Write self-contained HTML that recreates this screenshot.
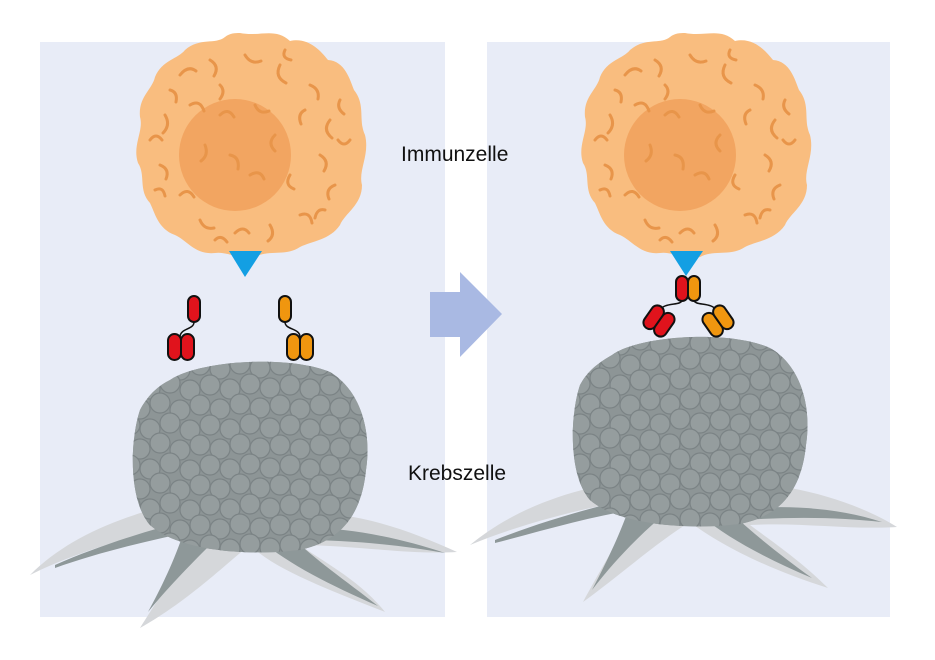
<!DOCTYPE html>
<html><head><meta charset="utf-8"><style>
html,body{margin:0;padding:0;background:#fff;}
svg{display:block}
text{font-family:"Liberation Sans",sans-serif;font-size:21px;fill:#111}
</style></head><body>
<svg width="935" height="660" viewBox="0 0 935 660" xmlns="http://www.w3.org/2000/svg">
<defs>
<clipPath id="c1"><path d="M170,380 C200,360 290,355 330,372 C360,390 372,430 366,470 C362,510 345,540 300,550 C250,556 180,552 150,525 C128,500 130,440 140,410 C148,395 158,386 170,380Z"/></clipPath>
<clipPath id="c2"><path d="M612,355 C640,335 730,330 770,348 C800,365 812,405 806,445 C802,485 785,515 740,524 C690,530 620,526 590,500 C568,475 570,415 580,385 C588,370 600,362 612,355Z"/></clipPath>
<g id="tex">
<g fill="#959d9e" stroke="#7b8385" stroke-width="1.2">
<circle cx="0" cy="0" r="10"/><circle cx="20" cy="4" r="10"/><circle cx="40" cy="-2" r="10"/><circle cx="60" cy="5" r="10"/><circle cx="80" cy="0" r="10"/><circle cx="100" cy="4" r="10"/><circle cx="120" cy="-1" r="10"/><circle cx="140" cy="3" r="10"/><circle cx="160" cy="0" r="10"/><circle cx="180" cy="4" r="10"/><circle cx="200" cy="0" r="10"/><circle cx="220" cy="3" r="10"/><circle cx="240" cy="0" r="10"/>
</g></g>
<g id="cellTex" fill="none" stroke="#e8954a" stroke-width="3" stroke-linecap="round">
<path d="M-70,-70 q8,-10 16,-4"/><path d="M-40,-85 q10,6 4,16"/><path d="M-5,-90 q6,10 16,6"/><path d="M30,-80 q-6,12 6,18"/><path d="M60,-60 q10,4 8,14"/>
<path d="M-85,-30 q6,10 -2,18"/><path d="M-60,-40 q10,-6 14,6"/><path d="M80,-25 q-8,10 2,18"/><path d="M70,10 q10,6 4,16"/><path d="M85,40 q-10,4 -6,14"/>
<path d="M-90,20 q10,4 6,14"/><path d="M-70,50 q8,-8 14,2"/><path d="M-50,75 q4,10 14,8"/><path d="M-15,88 q8,-8 14,0"/><path d="M20,80 q6,10 -2,16"/><path d="M50,70 q10,-4 12,8"/>
<path d="M-30,-30 q8,-8 14,2"/><path d="M5,-40 q4,10 14,6"/><path d="M25,-10 q-8,8 0,16"/><path d="M-20,10 q10,2 8,14"/><path d="M0,30 q10,-6 14,4"/><path d="M-45,0 q4,10 -4,16"/><path d="M40,30 q-6,10 4,14"/>
<path d="M-100,-5 q6,-8 12,0"/><path d="M100,-5 q-6,8 -12,0"/><path d="M-30,-60 q6,6 0,14"/><path d="M55,-35 q-8,4 -4,14"/>
<path d="M-80,-55 q8,2 6,12"/><path d="M90,-45 q-4,8 4,14"/><path d="M-95,45 q8,-4 10,6"/><path d="M75,65 q-8,-2 -10,8"/><path d="M-35,95 q6,-6 12,2"/><path d="M35,-95 q-4,8 6,10"/>
</g>
<path id="cellShape" d="M-10,-112 C10,-108 25,-118 40,-104 C58,-108 70,-95 78,-85 C95,-84 100,-65 104,-55 C116,-40 108,-25 115,-10 C120,10 108,25 112,40 C112,60 95,68 90,80 C80,95 62,96 50,102 C35,112 20,104 5,112 C-10,116 -22,106 -35,108 C-55,110 -62,96 -75,90 C-92,84 -95,68 -100,58 C-112,45 -104,30 -112,18 C-118,0 -106,-14 -110,-28 C-112,-48 -98,-55 -95,-68 C-88,-85 -72,-86 -65,-95 C-50,-108 -35,-100 -25,-108 C-20,-112 -15,-112 -10,-112Z"/>
</defs>
<rect x="40" y="42" width="405" height="575" fill="#e8ecf7"/>
<rect x="487" y="42" width="403" height="575" fill="#e8ecf7"/>
<polygon points="430,292 460,292 460,272 502,314 460,357 460,337 430,337" fill="#a9b9e3"/>

<!-- left tentacles -->
<path d="M30,575 C80,550 140,535 190,520 C200,540 170,580 140,628 C190,600 230,560 250,545 C275,570 330,590 385,612 C360,580 320,560 300,545 C350,545 410,555 457,552 C420,535 380,520 340,515 C300,505 220,500 150,510 C100,525 60,545 30,575Z" fill="#d5d7da"/>
<g fill="#8e9899">
<path d="M55,565 C100,545 150,530 195,518 L200,530 C150,540 100,552 55,568Z"/>
<path d="M185,528 C175,560 160,590 148,612 C170,585 195,560 215,540Z"/>
<path d="M260,540 C290,565 330,585 378,606 C345,580 315,560 290,535Z"/>
<path d="M300,540 C350,540 400,545 445,553 C400,538 350,528 310,528Z"/>
</g>
<!-- right tentacles -->
<path d="M470,545 C530,520 600,505 640,498 C625,530 600,570 583,602 C620,575 660,540 690,522 C720,545 770,570 828,588 C800,560 770,540 750,525 C800,522 850,530 897,527 C870,510 830,495 790,488 C740,478 650,478 590,488 C540,500 500,520 470,545Z" fill="#d5d7da"/>
<g fill="#8e9899">
<path d="M495,540 C540,522 590,508 640,496 L645,508 C595,515 545,530 495,543Z"/>
<path d="M630,505 C620,535 605,565 592,590 C615,560 640,535 660,518Z"/>
<path d="M700,515 C730,540 770,560 812,578 C780,555 755,535 730,512Z"/>
<path d="M745,520 C800,516 845,518 882,522 C845,510 800,505 755,508Z"/>
</g>

<!-- left cancer -->
<path d="M170,380 C200,360 290,355 330,372 C360,390 372,430 366,470 C362,510 345,540 300,550 C250,556 180,552 150,525 C128,500 130,440 140,410 C148,395 158,386 170,380Z" fill="#8d9596"/>
<g clip-path="url(#c1)">
<use href="#tex" x="120" y="365"/><use href="#tex" x="130" y="385"/><use href="#tex" x="120" y="405"/><use href="#tex" x="130" y="425"/><use href="#tex" x="120" y="445"/><use href="#tex" x="130" y="465"/><use href="#tex" x="120" y="485"/><use href="#tex" x="130" y="505"/><use href="#tex" x="120" y="525"/><use href="#tex" x="130" y="545"/>
</g>
<!-- right cancer -->
<path d="M612,355 C640,335 730,330 770,348 C800,365 812,405 806,445 C802,485 785,515 740,524 C690,530 620,526 590,500 C568,475 570,415 580,385 C588,370 600,362 612,355Z" fill="#8d9596"/>
<g clip-path="url(#c2)">
<use href="#tex" x="560" y="340"/><use href="#tex" x="570" y="360"/><use href="#tex" x="560" y="380"/><use href="#tex" x="570" y="400"/><use href="#tex" x="560" y="420"/><use href="#tex" x="570" y="440"/><use href="#tex" x="560" y="460"/><use href="#tex" x="570" y="480"/><use href="#tex" x="560" y="500"/><use href="#tex" x="570" y="520"/>
</g>

<!-- immune cells -->
<g transform="translate(250,145)">
<use href="#cellShape" fill="#f9bd7f"/>
<circle cx="-15" cy="10" r="56" fill="#f2a561"/>
<use href="#cellTex"/>
</g>
<g transform="translate(695,145)">
<use href="#cellShape" fill="#f9bd7f"/>
<circle cx="-15" cy="10" r="56" fill="#f2a561"/>
<use href="#cellTex"/>
</g>
<polygon points="229,251 262,251 245,277" fill="#139fe3"/>
<polygon points="670,251 703,251 686,276" fill="#139fe3"/>

<!-- left antibodies -->
<g stroke="#111" stroke-width="2">
<path d="M194,322 C194,330 180,328 180,337" fill="none" stroke-width="1.5"/>
<rect x="188" y="296" width="12" height="26" rx="6" fill="#e0131c"/>
<rect x="168" y="334" width="13" height="26" rx="6.5" fill="#e0131c"/>
<rect x="181" y="334" width="13" height="26" rx="6.5" fill="#e0131c"/>
<path d="M285,322 C285,330 300,328 300,337" fill="none" stroke-width="1.5"/>
<rect x="279" y="296" width="12" height="26" rx="6" fill="#f0960f"/>
<rect x="287" y="334" width="13" height="26" rx="6.5" fill="#f0960f"/>
<rect x="300" y="334" width="13" height="26" rx="6.5" fill="#f0960f"/>
</g>
<!-- right antibody complex -->
<g stroke="#111" stroke-width="2">
<path d="M682,300 C682,306 664,302 660,310" fill="none" stroke-width="1.5"/>
<path d="M694,300 C694,306 712,302 716,310" fill="none" stroke-width="1.5"/>
<rect x="676" y="276" width="12" height="25" rx="6" fill="#e0131c"/>
<rect x="688" y="276" width="12" height="25" rx="6" fill="#f0960f"/>
<g transform="translate(659,321) rotate(35)"><rect x="-13" y="-13" width="13" height="26" rx="6.5" fill="#e0131c"/><rect x="0" y="-13" width="13" height="26" rx="6.5" fill="#e0131c"/></g>
<g transform="translate(718,321) rotate(-35)"><rect x="-13" y="-13" width="13" height="26" rx="6.5" fill="#f0960f"/><rect x="0" y="-13" width="13" height="26" rx="6.5" fill="#f0960f"/></g>
</g>

<text x="401" y="161">Immunzelle</text>
<text x="408" y="480">Krebszelle</text>
</svg>
</body></html>
